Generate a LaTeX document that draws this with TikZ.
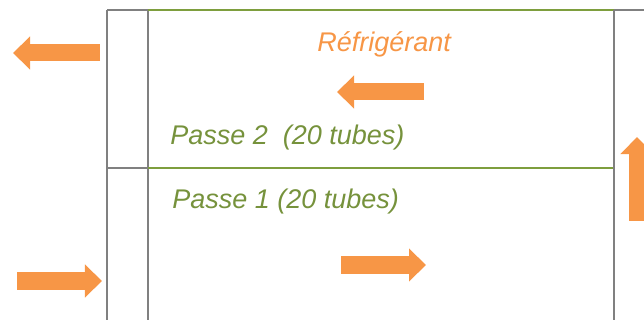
\documentclass[tikz,border=0pt]{standalone}
\usepackage{fontspec}
\setmainfont{Liberation Sans}
\usepackage{xcolor}
\usepackage{tikz}
\usetikzlibrary{arrows.meta,positioning}
\definecolor{fluxA}{HTML}{F79646}
\definecolor{passeA}{HTML}{76923C}
\definecolor{cadreA}{HTML}{808080}
\definecolor{ligneA}{HTML}{7E9E3E}

\begin{document}
\begin{tikzpicture}[x=0.025cm, y=-0.025cm,
    flux/.style={draw=fluxA, line width=0.425cm, -{Triangle[width=0.8cm, length=0.425cm]}},
    cadre/.style={draw=cadreA, line width=1.4pt},
    ligne/.style={draw=ligneA, line width=1.4pt},
    texte/.style={font=\fontsize{19.2}{23}\selectfont\itshape, inner sep=0, anchor=base west}]
      \clip (0, 0) rectangle (644, 320);
      % Header box
      \draw[cadre] (107, 10) -- (107, 330);
      \draw[cadre] (148, 10) -- (148, 330);
      \draw[cadre] (107, 10) -- (148, 10);
      \draw[cadre] (107, 168) -- (148, 168);
      % Tube passes
      \draw[ligne] (148, 10) -- (614, 10);
      \draw[ligne] (148, 168) -- (614, 168);
      % Return box
      \draw[cadre] (614, 10) -- (614, 330);
      \draw[cadre] (614, 10) -- (650, 10);
      % Labels
      \node[texte, text=fluxA] (refrig) at (317, 52) {Réfrigérant};
      \node[texte, text=passeA] (passe2) at (170, 145) {Passe 2\ \ (20 tubes)};
      \node[texte, text=passeA] (passe1) at (172, 209) {Passe 1 (20 tubes)};
      % Flow arrows
      \draw[flux] (100, 53) -- (13, 53);
      \draw[flux] (17, 281) -- (102, 281);
      \draw[flux] (424, 92) -- (337, 92);
      \draw[flux] (341, 265) -- (426, 265);
      \draw[flux] (637, 221) -- (637, 137);
    \end{tikzpicture}
\end{document}
